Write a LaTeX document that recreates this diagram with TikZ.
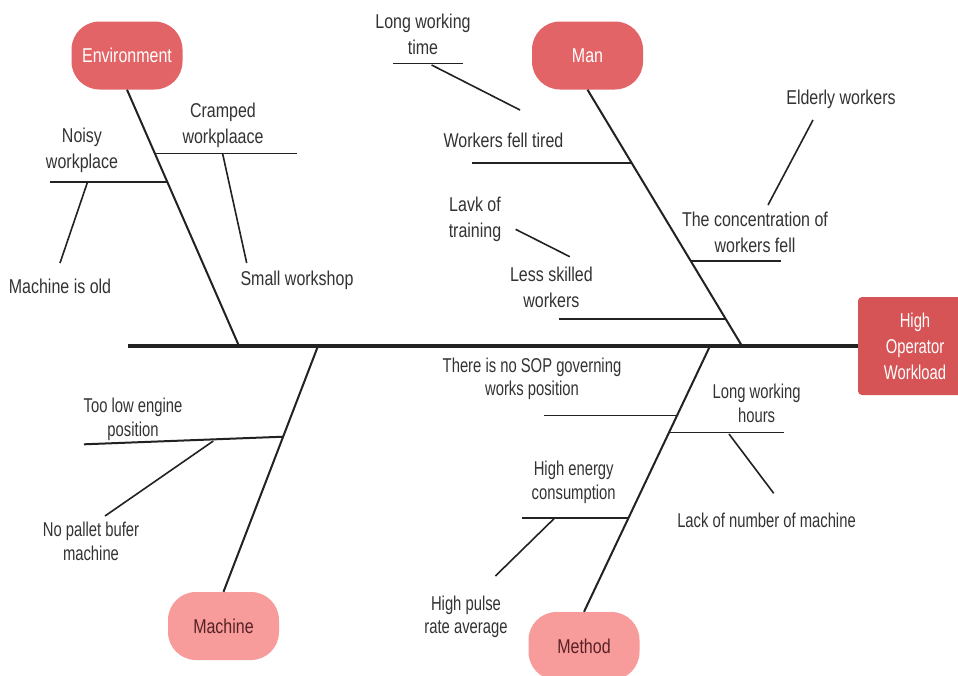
\documentclass[tikz,border=0pt]{standalone}
\usepackage{fontspec}
\setmainfont{Liberation Sans}[FakeStretch=0.8]
\newfontfamily\narrowfont{Liberation Sans}[FakeStretch=0.74]
\definecolor{envred}{RGB}{226,100,102}
\definecolor{lightred}{RGB}{247,155,155}
\definecolor{headred}{RGB}{214,84,86}
\definecolor{labelgray}{RGB}{51,51,51}
\definecolor{darktext}{RGB}{88,34,36}
\definecolor{linegray}{RGB}{34,34,34}
\begin{document}
\begin{tikzpicture}[x=1pt,y=-1pt,
  lbl/.style={inner sep=0pt,align=center,text=labelgray,font=\fontsize{20}{26}\selectfont},
  lowlbl/.style={inner sep=0pt,align=center,text=labelgray,font=\narrowfont\fontsize{20}{23.5}\selectfont},
  causedark/.style={rectangle,rounded corners=28pt,fill=envred,minimum width=111pt,minimum height=68pt,inner sep=0pt,text=white,font=\fontsize{20}{26}\selectfont},
  causelight/.style={rectangle,rounded corners=28pt,fill=lightred,minimum width=111pt,minimum height=68pt,inner sep=0pt,text=darktext,font=\fontsize{20}{26}\selectfont},
  headbox/.style={rectangle,rounded corners=4pt,fill=headred,minimum width=114pt,minimum height=98pt,inner sep=0pt,align=center,text=white,font=\narrowfont\fontsize{20}{26}\selectfont},
  spine/.style={draw=linegray,line width=3.5pt},
  bone/.style={draw=linegray,line width=2pt},
  twig/.style={draw=linegray,line width=1.6pt}]
\useasboundingbox (0,0) rectangle (958,675);
\clip (0,0) rectangle (958,675);
\fill[white] (0,0) rectangle (958,675);

% head and spine
\node[headbox] (head) at (915,346) {High\\Operator\\Workload};
\coordinate (tail) at (128,346);
\draw[spine] (tail) -- (head.west);

% cause boxes
\node[causedark] (env) at (127,55.5) {Environment};
\node[causedark] (man) at (587.5,55.5) {Man};
\node[causelight] (mach) at (223.5,626) {Machine};
\node[causelight] (meth) at (584,646) {Method};

% bone ends on spine
\coordinate (envS) at (239,346);
\coordinate (manS) at (742,346);
\coordinate (machS) at (318,346);
\coordinate (methS) at (710,346);
\draw[bone] (env.south) -- (envS);
\draw[bone] (man.south) -- (manS);
\draw[bone] (machS) -- (mach.north);
\draw[bone] (methS) -- (meth.north);

% ---------- Environment ----------
\node[lbl] (cramped) at (223,125) {Cramped\\workplaace};
\coordinate (crA) at (155,153.3);
\coordinate (crB) at (297,153.3);
\draw[twig] (crA) -- (crB);
\node[lbl] (small) at (297,280) {Small workshop};
\coordinate (smA) at (222.7,154);
\coordinate (smB) at (246.7,263);
\draw[twig] (smA) -- (smB);

\node[lbl] (noisy) at (82,150) {Noisy\\workplace};
\coordinate (noA) at (50,181.7);
\coordinate (noB) at (167,181.7);
\draw[bone] (noA) -- (noB);
\node[lbl] (old) at (60,286) {Machine is old};
\coordinate (olA) at (87.3,182.7);
\coordinate (olB) at (60,263);
\draw[twig] (olA) -- (olB);

% ---------- Man ----------
\node[lbl] (lwt) at (423,34) {Long working\\time};
\coordinate (lwA) at (393,63.3);
\coordinate (lwB) at (463,63.3);
\draw[twig] (lwA) -- (lwB);
\coordinate (lwC) at (431.6,65);
\coordinate (lwD) at (520,110);
\draw[twig] (lwC) -- (lwD);

\node[lbl] (tired) at (503.5,140) {Workers fell tired};
\coordinate (tiA) at (472,162.7);
\coordinate (tiB) at (632,162.7);
\draw[bone] (tiA) -- (tiB);

\node[lbl] (lavk) at (475,219.5) {Lavk of\\training};
\coordinate (lvA) at (515.6,229.3);
\coordinate (lvB) at (569.8,256.7);
\draw[twig] (lvA) -- (lvB);

\node[lbl] (less) at (551.4,287) {Less skilled\\workers};
\coordinate (lsA) at (558.8,319);
\coordinate (lsB) at (726,319);
\draw[bone] (lsA) -- (lsB);

\node[lbl] (conc) at (755,232) {The concentration of\\workers fell};
\coordinate (coA) at (691,260.7);
\coordinate (coB) at (781,260.7);
\draw[bone] (coA) -- (coB);

\node[lbl] (elder) at (841,99.3) {Elderly workers};
\coordinate (elA) at (813,120);
\coordinate (elB) at (768,205);
\draw[twig] (elA) -- (elB);

% ---------- Machine ----------
\node[lowlbl] (engine) at (133,419.3) {Too low engine\\position};
\coordinate (enA) at (84,444.3);
\coordinate (enB) at (283.3,436.7);
\draw[bone] (enA) -- (enB);
\node[lowlbl] (pallet) at (91,541.3) {No pallet bufer\\machine};
\coordinate (paA) at (213.3,441);
\coordinate (paB) at (105,516);
\draw[twig] (paA) -- (paB);

% ---------- Method ----------
\node[lowlbl] (sop) at (532,379) {There is no SOP governing\\works position};
\coordinate (soA) at (544,415.3);
\coordinate (soB) at (677,415.3);
\draw[twig] (soA) -- (soB);

\node[lowlbl] (lwh) at (756.6,403.3) {Long working\\hours};
\coordinate (lhA) at (669,432.3);
\coordinate (lhB) at (783.6,432.3);
\draw[twig] (lhA) -- (lhB);
\node[lowlbl] (lack) at (766.5,520) {Lack of number of machine};
\coordinate (laA) at (729,434);
\coordinate (laB) at (773.7,493.3);
\draw[twig] (laA) -- (laB);

\node[lowlbl] (energy) at (573.7,482.5) {High energy\\consumption};
\coordinate (heA) at (521.7,517.7);
\coordinate (heB) at (628.5,517.7);
\draw[bone] (heA) -- (heB);
\node[lowlbl] (pulse) at (466,617) {High pulse\\rate average};
\coordinate (puA) at (554,518.7);
\coordinate (puB) at (495.4,576);
\draw[twig] (puA) -- (puB);
\end{tikzpicture}
\end{document}
